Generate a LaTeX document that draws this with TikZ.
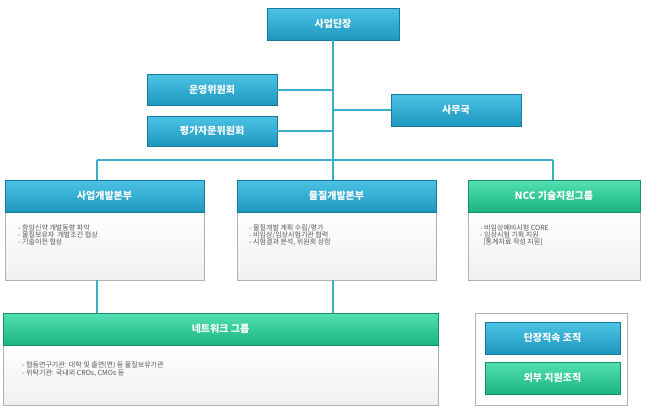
\documentclass[tikz,border=0pt]{standalone}
\usepackage{fontspec}
\setmainfont{Noto Sans CJK KR}
\usetikzlibrary{positioning}
\definecolor{linec}{HTML}{3AB0C8}
\definecolor{bluetop}{HTML}{4CC3E4}
\definecolor{bluebot}{HTML}{1E97C0}
\definecolor{greentop}{HTML}{52E0B4}
\definecolor{greenbot}{HTML}{1CB47E}
\definecolor{bodytxt}{HTML}{555555}
\tikzset{
  bluebox/.style={draw=bluebot!80!black, top color=bluetop, bottom color=bluebot, text=white, font=\bfseries\fontsize{10}{12}\selectfont, inner sep=0pt},
  greenbox/.style={draw=greenbot!80!black, top color=greentop, bottom color=greenbot, text=white, font=\bfseries\fontsize{10}{12}\selectfont, inner sep=0pt},
  bodybox/.style={draw=gray!60, line width=1pt, top color=white, bottom color=gray!12},
  item/.style={text=bodytxt, font=\fontsize{7}{9}\selectfont, anchor=west, inner sep=0pt},
  conn/.style={linec, line width=1.2pt}
}
\begin{document}
\begin{tikzpicture}[x=1pt,y=-1pt]
\useasboundingbox (0,0) rectangle (657,413);

% top part
\node[bluebox, minimum width=132pt, minimum height=32pt] (head) at (333,24) {사업단장};
\node[bluebox, minimum width=130pt, minimum height=31pt] (ops) at (212,90) {운영위원회};
\node[bluebox, minimum width=130pt, minimum height=30pt] (eval) at (212,131) {평가자문위원회};
\node[bluebox, minimum width=130pt, minimum height=32pt] (office) at (456,110) {사무국};

\coordinate (hub) at (333,160);
\draw[conn] (head.south) -- (hub);
\draw[conn] (ops.east) -- (ops.east -| hub);
\draw[conn] (eval.east) -- (eval.east -| hub);
\draw[conn] (office.west) -- (office.west -| hub);

% divisions
\draw[bodybox] (5,212) rectangle (204,280);
\draw[bodybox] (237,212) rectangle (436,280);
\draw[bodybox] (468,212) rectangle (640,280);
\node[bluebox, minimum width=199pt, minimum height=32pt] (bizdev) at (104.5,196) {사업개발본부};
\node[bluebox, minimum width=199pt, minimum height=32pt] (matdev) at (336.5,196) {물질개발본부};
\node[greenbox, minimum width=172pt, minimum height=32pt] (ncc) at (554,196) {NCC 기술지원그룹};

\coordinate (left) at (97,160);
\coordinate (right) at (553,160);
\draw[conn] (left) -- (right);
\draw[conn] (left) -- (left |- bizdev.north);
\draw[conn] (hub) -- (hub |- matdev.north);
\draw[conn] (right) -- (right |- ncc.north);

\node[item] (b1) at (18,228) {- 항암신약 개발동향 파악};
\node[item, below=7pt of b1.west, anchor=west] (b2) {- 물질보유자\ \ 개발조건 협상};
\node[item, below=7pt of b2.west, anchor=west] (b3) {- 기술이전 협상};
\node[item] (m1) at (249,228) {- 물질개발 계획 수립/평가};
\node[item, below=7pt of m1.west, anchor=west] (m2) {- 비임상/임상시험기관 협력};
\node[item, below=7pt of m2.west, anchor=west] (m3) {- 시험결과 분석, 위원회 상정};
\node[item] (n1) at (480,228) {- 비임상예비시험 CORE};
\node[item, below=7pt of n1.west, anchor=west] (n2) {- 임상시험 기획 지원};
\node[item, below=7pt of n2.west, anchor=west] (n3) {\ \ [통계자료 작성 지원]};

% network group
\draw[bodybox] (3,345) rectangle (438,405);
\node[greenbox, minimum width=435pt, minimum height=32pt] (net) at (220.5,329) {네트워크 그룹};
\coordinate (bizfoot) at (97,280);
\coordinate (matfoot) at (333,280);
\draw[conn] (bizfoot) -- (bizfoot |- net.north);
\draw[conn] (matfoot) -- (matfoot |- net.north);
\node[item] (w1) at (22,365) {- 협동연구기관: 대학 및 출연(연) 등 물질보유기관};
\node[item, below=8pt of w1.west, anchor=west] (w2) {- 위탁기관: 국내외 CROs, CMOs 등};

% legend
\draw[draw=gray!60, line width=1pt, fill=white] (475,313) rectangle (627,405);
\node[bluebox, minimum width=135pt, minimum height=32pt] (legdirect) at (552.5,338) {단장직속 조직};
\node[greenbox, minimum width=135pt, minimum height=32pt] (legext) at (552.5,378) {외부 지원조직};
\end{tikzpicture}
\end{document}
